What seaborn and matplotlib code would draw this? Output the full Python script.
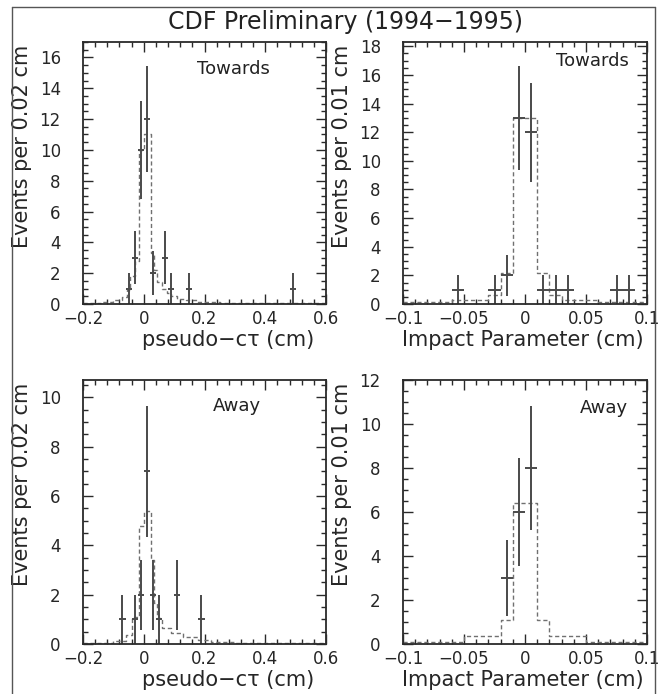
import numpy as np
import pandas as pd
import matplotlib
matplotlib.use("Agg")
import matplotlib.pyplot as plt
from matplotlib.ticker import MultipleLocator
from matplotlib.lines import Line2D
import seaborn as sns

# ---------------- data ----------------
title = "CDF Preliminary (1994−1995)"
ylabel_ctau = "Events per 0.02 cm"
ylabel_ip = "Events per 0.01 cm"
xlabel_ctau = "pseudo−cτ (cm)"
xlabel_ip = "Impact Parameter (cm)"
label_towards = "Towards"
label_away = "Away"

# Top-left: pseudo-c tau, Towards
tl_data_x = [-0.05, -0.03, -0.01, 0.01, 0.03, 0.07, 0.09, 0.15, 0.49]
tl_data_y = [1, 3, 10, 12, 2, 3, 1, 1, 1]
tl_fit_edges = [-0.20, -0.14, -0.10, -0.07, -0.055, -0.045, -0.03, -0.015, 0.0,
                0.025, 0.035, 0.045, 0.06, 0.075, 0.09, 0.11, 0.14, 0.18, 0.25, 0.60]
tl_fit_heights = [0.05, 0.1, 0.25, 0.45, 0.9, 1.8, 2.8, 10.0, 11.0,
                  3.3, 2.2, 1.4, 1.0, 0.7, 0.5, 0.35, 0.25, 0.15, 0.08]

# Top-right: impact parameter, Towards
tr_data_x = [-0.055, -0.025, -0.015, -0.005, 0.005, 0.015, 0.025, 0.035, 0.075, 0.085]
tr_data_y = [1, 1, 2, 13, 12, 1, 1, 1, 1, 1]
tr_fit_edges = [-0.10, -0.06, -0.03, -0.02, -0.01, 0.01, 0.02, 0.03, 0.06, 0.10]
tr_fit_heights = [0.15, 0.3, 0.6, 2.2, 13.0, 2.2, 0.6, 0.3, 0.15]

# Bottom-left: pseudo-c tau, Away
bl_data_x = [-0.07, -0.03, -0.01, 0.01, 0.03, 0.05, 0.11, 0.19]
bl_data_y = [1, 1, 2, 7, 2, 1, 2, 1]
bl_fit_edges = [-0.20, -0.10, -0.06, -0.04, -0.015, 0.0, 0.025, 0.035, 0.045,
                0.06, 0.09, 0.13, 0.18, 0.22, 0.30, 0.60]
bl_fit_heights = [0.03, 0.12, 0.35, 1.1, 4.8, 5.4, 3.4, 1.65, 1.05,
                  0.65, 0.45, 0.27, 0.17, 0.1, 0.04]

# Bottom-right: impact parameter, Away
br_data_x = [-0.015, -0.005, 0.005]
br_data_y = [3, 6, 8]
br_fit_edges = [-0.10, -0.05, -0.02, -0.01, 0.01, 0.02, 0.05, 0.10]
br_fit_heights = [0.1, 0.35, 1.1, 6.4, 1.1, 0.35, 0.1]

ctau_bin = 0.02
ip_bin = 0.01

# ---------------- style ----------------
sns.set_style("ticks")
plt.rcParams["font.family"] = ["DejaVu Sans"]
plt.rcParams["axes.edgecolor"] = "#2a2a2a"
plt.rcParams["axes.linewidth"] = 1.3

W, H = 658, 694
fig = plt.figure(figsize=(W / 100, H / 100), dpi=100)
fig.patch.set_facecolor("white")


def make_axes(left, top, right, bottom):
    return fig.add_axes([left / W, 1 - bottom / H, (right - left) / W, (bottom - top) / H])


panels = [
    dict(box=(83, 42, 326, 304), dx=tl_data_x, dy=tl_data_y, fe=tl_fit_edges, fh=tl_fit_heights,
         bw=ctau_bin, xlim=(-0.2, 0.6), ylim=(0, 17), xmaj=0.2, xmin=0.04,
         xlab=xlabel_ctau, ylab=ylabel_ctau, xlab_x=0.952, tag=label_towards, tag_xy=(0.62, 0.897)),
    dict(box=(403, 42, 647, 304), dx=tr_data_x, dy=tr_data_y, fe=tr_fit_edges, fh=tr_fit_heights,
         bw=ip_bin, xlim=(-0.1, 0.1), ylim=(0, 18.3), xmaj=0.05, xmin=0.01,
         xlab=xlabel_ip, ylab=ylabel_ip, xlab_x=0.985, tag=label_towards, tag_xy=(0.776, 0.927)),
    dict(box=(83, 380, 326, 644), dx=bl_data_x, dy=bl_data_y, fe=bl_fit_edges, fh=bl_fit_heights,
         bw=ctau_bin, xlim=(-0.2, 0.6), ylim=(0, 10.7), xmaj=0.2, xmin=0.04,
         xlab=xlabel_ctau, ylab=ylabel_ctau, xlab_x=0.952, tag=label_away, tag_xy=(0.634, 0.90)),
    dict(box=(403, 380, 647, 644), dx=br_data_x, dy=br_data_y, fe=br_fit_edges, fh=br_fit_heights,
         bw=ip_bin, xlim=(-0.1, 0.1), ylim=(0, 12), xmaj=0.05, xmin=0.01,
         xlab=xlabel_ip, ylab=ylabel_ip, xlab_x=0.985, tag=label_away, tag_xy=(0.825, 0.894)),
]

for p in panels:
    ax = make_axes(*p["box"])
    edges = [float(e) for e in p["fe"]]
    centers = [0.5 * (a + b) for a, b in zip(edges[:-1], edges[1:])]
    fit_df = pd.DataFrame({"x": centers, "w": [float(h) for h in p["fh"]]})
    sns.histplot(data=fit_df, x="x", weights="w", bins=edges, element="step", fill=False,
                 color="#707070", linestyle=(0, (3, 2)), linewidth=1.0, ax=ax)
    y = np.array(p["dy"], dtype=float)
    ax.errorbar(p["dx"], y, xerr=p["bw"] / 2, yerr=np.sqrt(y), fmt="none",
                ecolor="#4a4a4a", elinewidth=1.4, capsize=0)

    ax.set_xlim(*p["xlim"])
    ax.set_ylim(*p["ylim"])
    ax.xaxis.set_major_locator(MultipleLocator(p["xmaj"]))
    ax.xaxis.set_minor_locator(MultipleLocator(p["xmin"]))
    ax.yaxis.set_major_locator(MultipleLocator(2))
    ax.yaxis.set_minor_locator(MultipleLocator(0.5))
    ax.tick_params(which="both", direction="in", top=True, right=True,
                   color="#2a2a2a", width=1.0)
    ax.tick_params(which="major", length=7)
    ax.tick_params(which="minor", length=3.5)
    ax.tick_params(axis="x", which="major", labelsize=12, pad=4.5)
    ax.tick_params(axis="y", which="major", labelsize=12, pad=16)
    ax.xaxis.set_major_formatter(plt.FuncFormatter(
        lambda v, pos: "0" if abs(v) < 1e-9 else f"{v:g}".replace("-", "−")))

    ax.set_xlabel(p["xlab"], fontsize=15, loc="right")
    ax.xaxis.set_label_coords(p["xlab_x"], -0.098)
    ax.set_ylabel(p["ylab"], fontsize=15, loc="top")
    ax.yaxis.set_label_coords(-0.21, 0.99)
    ax.text(*p["tag_xy"], p["tag"], transform=ax.transAxes, ha="center", va="center",
            fontsize=13, color="#222222")
    for s in ax.spines.values():
        s.set_visible(True)

fig.text(345 / W, 1 - 22 / H, title, ha="center", va="center", fontsize=17, color="#222222")

# outer frame (left, top, right)
frame_kw = dict(color="#555555", linewidth=1.0, transform=fig.transFigure)
fig.add_artist(Line2D([12 / W, 12 / W], [0, 1 - 7 / H], **frame_kw))
fig.add_artist(Line2D([12 / W, 655 / W], [1 - 7 / H, 1 - 7 / H], **frame_kw))
fig.add_artist(Line2D([655 / W, 655 / W], [0, 1 - 7 / H], **frame_kw))

fig.savefig("out.png", dpi=100, facecolor="white")
